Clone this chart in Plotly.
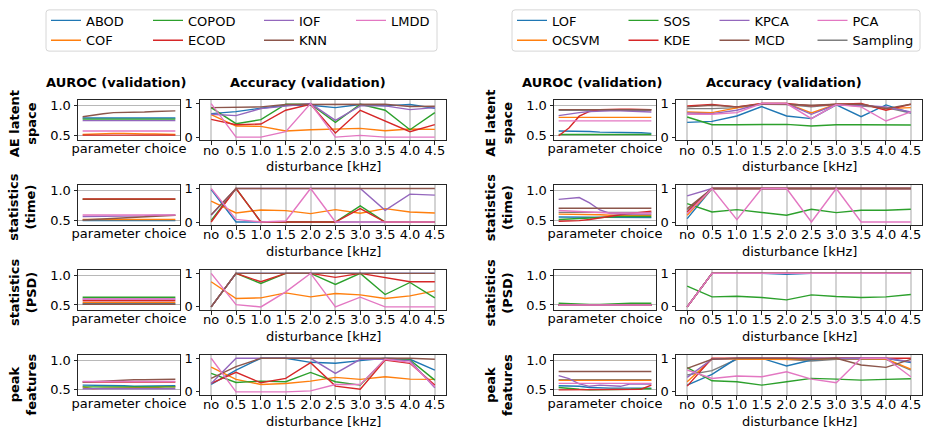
import plotly.graph_objects as go

# ---------------- data ----------------
DIST = ["no", "0.5", "1.0", "1.5", "2.0", "2.5", "3.0", "3.5", "4.0", "4.5"]
PARAM = [0, 1, 2, 3, 4, 5, 6, 7, 8, 9]

LEFT_METHODS = ["ABOD", "COF", "COPOD", "ECOD", "IOF", "KNN", "LMDD"]
RIGHT_METHODS = ["LOF", "OCSVM", "SOS", "KDE", "KPCA", "MCD", "PCA", "Sampling"]

ROW_LABELS = ["AE latent<br>space", "statistics<br>(time)", "statistics<br>(PSD)", "peak<br>features"]
COL_TITLES = ["AUROC (validation)", "Accuracy (validation)"]
X_TITLE_AUROC = "parameter choice"
X_TITLE_ACC = "disturbance [kHz]"

# --- left half: AUROC (validation) over parameter choice ---
AUROC_L_AE = {
    "ABOD": [0.79, 0.79, 0.79, 0.79, 0.79, 0.79, 0.79, 0.79, 0.79, 0.79],
    "COF": [0.51, 0.52, 0.52, 0.53, 0.53, 0.52, 0.52, 0.52, 0.51, 0.51],
    "COPOD": [0.77, 0.77, 0.77, 0.77, 0.77, 0.77, 0.77, 0.77, 0.77, 0.77],
    "ECOD": [0.50, 0.50, 0.51, 0.51, 0.51, 0.51, 0.51, 0.51, 0.50, 0.50],
    "IOF": [0.745, 0.745, 0.745, 0.745, 0.745, 0.745, 0.745, 0.745, 0.745, 0.745],
    "KNN": [0.81, 0.84, 0.86, 0.88, 0.88, 0.89, 0.89, 0.90, 0.90, 0.91],
    "LMDD": [0.57, 0.57, 0.57, 0.57, 0.57, 0.57, 0.57, 0.57, 0.57, 0.57],
}
AUROC_L_TIME = {
    "ABOD": [0.49, 0.49, 0.49, 0.49, 0.49, 0.49, 0.49, 0.49, 0.49, 0.49],
    "COF": [0.51, 0.51, 0.51, 0.51, 0.51, 0.51, 0.51, 0.51, 0.51, 0.51],
    "COPOD": [0.85, 0.85, 0.85, 0.85, 0.85, 0.85, 0.85, 0.85, 0.85, 0.85],
    "ECOD": [0.855, 0.855, 0.855, 0.855, 0.855, 0.855, 0.855, 0.855, 0.855, 0.855],
    "IOF": [0.56, 0.56, 0.56, 0.57, 0.57, 0.57, 0.57, 0.58, 0.58, 0.58],
    "KNN": [0.50, 0.51, 0.52, 0.53, 0.54, 0.55, 0.56, 0.57, 0.58, 0.58],
    "LMDD": [0.585, 0.585, 0.585, 0.585, 0.585, 0.585, 0.585, 0.585, 0.585, 0.585],
}
AUROC_L_PSD = {
    "ABOD": [0.52, 0.52, 0.52, 0.52, 0.52, 0.52, 0.52, 0.52, 0.52, 0.52],
    "COF": [0.54, 0.54, 0.54, 0.54, 0.54, 0.54, 0.54, 0.54, 0.54, 0.54],
    "COPOD": [0.63, 0.63, 0.63, 0.63, 0.63, 0.63, 0.63, 0.63, 0.63, 0.63],
    "ECOD": [0.57, 0.57, 0.57, 0.57, 0.57, 0.57, 0.57, 0.57, 0.57, 0.57],
    "IOF": [0.60, 0.60, 0.60, 0.60, 0.60, 0.60, 0.60, 0.60, 0.60, 0.60],
    "KNN": [0.51, 0.51, 0.51, 0.51, 0.51, 0.51, 0.51, 0.51, 0.51, 0.51],
    "LMDD": [0.60, 0.60, 0.60, 0.60, 0.60, 0.60, 0.60, 0.60, 0.60, 0.60],
}
AUROC_L_PEAK = {
    "ABOD": [0.58, 0.58, 0.57, 0.57, 0.57, 0.56, 0.56, 0.56, 0.57, 0.57],
    "COF": [0.55, 0.52, 0.53, 0.53, 0.53, 0.53, 0.54, 0.54, 0.55, 0.55],
    "COPOD": [0.55, 0.55, 0.55, 0.55, 0.55, 0.55, 0.55, 0.55, 0.55, 0.55],
    "ECOD": [0.63, 0.63, 0.63, 0.63, 0.63, 0.63, 0.63, 0.63, 0.63, 0.63],
    "IOF": [0.52, 0.52, 0.52, 0.52, 0.52, 0.52, 0.52, 0.52, 0.52, 0.52],
    "KNN": [0.63, 0.64, 0.65, 0.66, 0.66, 0.67, 0.67, 0.67, 0.68, 0.68],
    "LMDD": [0.64, 0.64, 0.64, 0.64, 0.64, 0.64, 0.64, 0.64, 0.64, 0.64],
}

# --- left half: Accuracy (validation) over disturbance ---
ACC_L_AE = {
    "ABOD": [0.70, 0.76, 0.86, 0.95, 0.95, 0.88, 0.97, 0.93, 0.97, 0.86],
    "COF": [0.67, 0.33, 0.32, 0.18, 0.22, 0.23, 0.26, 0.19, 0.24, 0.23],
    "COPOD": [0.88, 0.40, 0.52, 0.98, 0.98, 0.44, 0.98, 0.80, 0.22, 0.73],
    "ECOD": [0.53, 0.37, 0.39, 0.80, 0.98, 0.12, 0.80, 0.47, 0.16, 0.37],
    "IOF": [0.68, 0.64, 0.85, 0.92, 1.00, 0.50, 0.93, 0.93, 0.82, 0.88],
    "KNN": [0.88, 0.89, 0.90, 0.97, 0.97, 0.96, 0.97, 0.98, 0.91, 0.92],
    "LMDD": [1.00, 0.00, 0.00, 0.16, 1.00, 0.00, 0.05, 0.00, 0.00, 0.00],
}
ACC_L_TIME = {
    "ABOD": [0.97, 0.00, 0.00, 0.00, 0.00, 0.00, 0.00, 0.00, 0.00, 0.00],
    "COF": [0.62, 0.27, 0.36, 0.34, 0.25, 0.37, 0.26, 0.40, 0.30, 0.27],
    "COPOD": [0.05, 1.00, 0.00, 0.00, 0.00, 0.00, 0.48, 0.00, 0.00, 0.00],
    "ECOD": [0.00, 1.00, 0.00, 0.00, 0.00, 0.00, 0.40, 0.00, 0.00, 0.00],
    "IOF": [0.20, 1.00, 1.00, 1.00, 1.00, 1.00, 1.00, 0.35, 0.83, 0.80],
    "KNN": [0.22, 1.00, 1.00, 1.00, 1.00, 1.00, 1.00, 1.00, 1.00, 1.00],
    "LMDD": [1.00, 0.08, 0.00, 0.03, 1.00, 0.00, 0.00, 0.00, 0.00, 0.00],
}
ACC_L_PSD = {
    "ABOD": [0.00, 1.00, 1.00, 1.00, 1.00, 1.00, 1.00, 1.00, 1.00, 1.00],
    "COF": [0.75, 0.25, 0.27, 0.42, 0.30, 0.40, 0.36, 0.25, 0.33, 0.48],
    "COPOD": [0.00, 1.00, 0.70, 1.00, 1.00, 0.67, 1.00, 0.37, 0.73, 0.27],
    "ECOD": [0.00, 1.00, 0.75, 1.00, 1.00, 0.88, 1.00, 0.87, 0.75, 0.75],
    "IOF": [0.00, 1.00, 1.00, 1.00, 1.00, 1.00, 1.00, 1.00, 1.00, 1.00],
    "KNN": [0.00, 1.00, 1.00, 1.00, 1.00, 1.00, 1.00, 1.00, 1.00, 1.00],
    "LMDD": [1.00, 0.07, 0.00, 0.45, 1.00, 0.00, 0.29, 0.00, 0.00, 0.00],
}
ACC_L_PEAK = {
    "ABOD": [0.22, 0.65, 1.00, 1.00, 0.88, 0.85, 0.93, 1.00, 0.97, 0.65],
    "COF": [0.74, 0.37, 0.22, 0.25, 0.32, 0.43, 0.37, 0.45, 0.38, 0.37],
    "COPOD": [0.55, 0.28, 0.32, 0.30, 0.58, 0.30, 0.20, 0.97, 0.95, 0.35],
    "ECOD": [0.25, 0.58, 0.27, 0.40, 0.87, 0.17, 0.08, 0.95, 0.85, 0.20],
    "IOF": [0.25, 1.00, 1.00, 1.00, 1.00, 0.55, 0.97, 0.97, 0.93, 0.12],
    "KNN": [0.40, 0.75, 1.00, 1.00, 1.00, 1.00, 1.00, 1.00, 1.00, 0.97],
    "LMDD": [1.00, 0.00, 0.00, 0.00, 0.03, 0.22, 0.22, 0.97, 0.88, 0.15],
}

# --- right half: AUROC (validation) over parameter choice ---
AUROC_R_AE = {
    "LOF": [0.57, 0.57, 0.56, 0.56, 0.55, 0.55, 0.54, 0.54, 0.54, 0.53],
    "OCSVM": [0.80, 0.80, 0.80, 0.80, 0.80, 0.80, 0.80, 0.80, 0.80, 0.80],
    "SOS": [0.51, 0.51, 0.51, 0.51, 0.51, 0.51, 0.51, 0.51, 0.51, 0.51],
    "KDE": [0.49, 0.62, 0.82, 0.90, 0.93, 0.94, 0.94, 0.94, 0.94, 0.93],
    "KPCA": [0.83, 0.86, 0.88, 0.90, 0.91, 0.91, 0.91, 0.90, 0.90, 0.89],
    "MCD": [0.93, 0.93, 0.93, 0.93, 0.93, 0.93, 0.93, 0.93, 0.93, 0.93],
    "PCA": [0.74, 0.74, 0.74, 0.74, 0.74, 0.74, 0.74, 0.74, 0.74, 0.74],
    "Sampling": [0.92, 0.92, 0.92, 0.92, 0.92, 0.92, 0.92, 0.92, 0.92, 0.92],
}
AUROC_R_TIME = {
    "LOF": [0.55, 0.55, 0.55, 0.55, 0.54, 0.54, 0.54, 0.54, 0.54, 0.54],
    "OCSVM": [0.60, 0.60, 0.60, 0.59, 0.59, 0.58, 0.58, 0.58, 0.58, 0.58],
    "SOS": [0.51, 0.52, 0.53, 0.54, 0.55, 0.55, 0.56, 0.56, 0.56, 0.56],
    "KDE": [0.48, 0.48, 0.49, 0.51, 0.54, 0.57, 0.59, 0.61, 0.63, 0.65],
    "KPCA": [0.85, 0.86, 0.88, 0.79, 0.67, 0.61, 0.60, 0.60, 0.60, 0.60],
    "MCD": [0.70, 0.70, 0.70, 0.70, 0.70, 0.70, 0.70, 0.70, 0.70, 0.70],
    "PCA": [0.66, 0.65, 0.64, 0.63, 0.62, 0.62, 0.62, 0.62, 0.62, 0.62],
    "Sampling": [0.63, 0.63, 0.63, 0.63, 0.63, 0.63, 0.63, 0.63, 0.63, 0.63],
}
AUROC_R_PSD = {
    "LOF": [0.50, 0.50, 0.50, 0.50, 0.50, 0.50, 0.50, 0.50, 0.50, 0.50],
    "OCSVM": [0.50, 0.50, 0.50, 0.50, 0.50, 0.50, 0.50, 0.50, 0.50, 0.50],
    "SOS": [0.53, 0.52, 0.51, 0.51, 0.51, 0.52, 0.52, 0.53, 0.53, 0.53],
    "KDE": [0.50, 0.50, 0.50, 0.50, 0.50, 0.50, 0.50, 0.50, 0.50, 0.50],
    "KPCA": [0.50, 0.50, 0.50, 0.50, 0.50, 0.50, 0.50, 0.50, 0.50, 0.50],
    "MCD": [0.50, 0.50, 0.50, 0.50, 0.50, 0.50, 0.50, 0.50, 0.50, 0.50],
    "PCA": [0.50, 0.50, 0.50, 0.50, 0.50, 0.50, 0.50, 0.50, 0.50, 0.50],
    "Sampling": [0.50, 0.50, 0.50, 0.50, 0.50, 0.50, 0.50, 0.50, 0.50, 0.50],
}
AUROC_R_PEAK = {
    "LOF": [0.57, 0.57, 0.56, 0.54, 0.53, 0.53, 0.53, 0.53, 0.53, 0.53],
    "OCSVM": [0.66, 0.66, 0.66, 0.66, 0.66, 0.66, 0.66, 0.66, 0.66, 0.66],
    "SOS": [0.54, 0.52, 0.51, 0.50, 0.50, 0.50, 0.51, 0.51, 0.52, 0.52],
    "KDE": [0.50, 0.50, 0.50, 0.50, 0.50, 0.50, 0.50, 0.50, 0.51, 0.58],
    "KPCA": [0.74, 0.69, 0.60, 0.56, 0.58, 0.57, 0.56, 0.60, 0.60, 0.60],
    "MCD": [0.81, 0.81, 0.81, 0.81, 0.81, 0.81, 0.81, 0.81, 0.81, 0.81],
    "PCA": [0.61, 0.61, 0.61, 0.61, 0.61, 0.61, 0.61, 0.61, 0.61, 0.61],
    "Sampling": [0.67, 0.67, 0.67, 0.67, 0.67, 0.67, 0.67, 0.67, 0.67, 0.67],
}

# --- right half: Accuracy (validation) over disturbance ---
ACC_R_AE = {
    "LOF": [0.44, 0.47, 0.63, 0.91, 0.63, 0.55, 0.96, 0.61, 0.96, 0.72],
    "OCSVM": [0.75, 0.73, 0.87, 1.00, 1.00, 0.72, 0.98, 0.97, 0.85, 0.88],
    "SOS": [0.60, 0.37, 0.37, 0.37, 0.38, 0.33, 0.37, 0.37, 0.37, 0.36],
    "KDE": [0.93, 0.97, 0.90, 1.00, 1.00, 0.93, 0.98, 1.00, 0.80, 0.98],
    "KPCA": [0.72, 0.70, 0.80, 1.00, 1.00, 0.68, 0.97, 0.95, 0.90, 0.75],
    "MCD": [0.90, 0.95, 0.90, 0.98, 0.98, 0.95, 0.98, 0.98, 0.85, 0.98],
    "PCA": [0.68, 0.68, 0.73, 1.00, 1.00, 0.55, 0.97, 0.90, 0.48, 0.75],
    "Sampling": [0.85, 0.85, 0.88, 0.98, 0.97, 0.90, 0.97, 0.93, 0.88, 0.72],
}
ACC_R_TIME = {
    "LOF": [0.10, 1.00, 1.00, 1.00, 1.00, 1.00, 1.00, 1.00, 1.00, 1.00],
    "OCSVM": [0.20, 1.00, 1.00, 1.00, 1.00, 1.00, 1.00, 1.00, 1.00, 1.00],
    "SOS": [0.55, 0.30, 0.37, 0.28, 0.20, 0.38, 0.28, 0.35, 0.35, 0.38],
    "KDE": [0.30, 1.00, 1.00, 1.00, 1.00, 1.00, 1.00, 1.00, 1.00, 1.00],
    "KPCA": [0.78, 1.00, 1.00, 1.00, 1.00, 1.00, 1.00, 1.00, 1.00, 1.00],
    "MCD": [0.40, 1.00, 1.00, 1.00, 1.00, 1.00, 1.00, 1.00, 1.00, 1.00],
    "PCA": [0.25, 1.00, 0.07, 1.00, 1.00, 0.00, 1.00, 0.00, 0.00, 0.00],
    "Sampling": [0.35, 1.00, 1.00, 1.00, 1.00, 1.00, 1.00, 1.00, 1.00, 1.00],
}
ACC_R_PSD = {
    "LOF": [0.00, 1.00, 1.00, 1.00, 0.97, 1.00, 1.00, 1.00, 1.00, 1.00],
    "OCSVM": [0.00, 1.00, 1.00, 1.00, 1.00, 1.00, 1.00, 1.00, 1.00, 1.00],
    "SOS": [0.62, 0.30, 0.32, 0.28, 0.21, 0.36, 0.31, 0.28, 0.30, 0.37],
    "KDE": [0.00, 1.00, 1.00, 1.00, 1.00, 1.00, 1.00, 1.00, 1.00, 1.00],
    "KPCA": [0.00, 1.00, 1.00, 1.00, 1.00, 1.00, 1.00, 1.00, 1.00, 1.00],
    "MCD": [0.00, 1.00, 1.00, 1.00, 1.00, 1.00, 1.00, 1.00, 1.00, 1.00],
    "PCA": [0.00, 1.00, 1.00, 1.00, 1.00, 1.00, 1.00, 1.00, 1.00, 1.00],
    "Sampling": [0.00, 1.00, 1.00, 1.00, 1.00, 1.00, 1.00, 1.00, 1.00, 1.00],
}
ACC_R_PEAK = {
    "LOF": [0.20, 0.52, 1.00, 1.00, 0.77, 0.95, 1.00, 1.00, 1.00, 0.87],
    "OCSVM": [0.30, 0.98, 0.98, 0.98, 0.98, 0.96, 1.00, 1.00, 0.98, 0.68],
    "SOS": [0.72, 0.33, 0.30, 0.20, 0.30, 0.40, 0.38, 0.35, 0.37, 0.39],
    "KDE": [0.17, 1.00, 1.00, 1.00, 1.00, 1.00, 1.00, 1.00, 1.00, 1.00],
    "KPCA": [0.43, 0.97, 1.00, 1.00, 1.00, 1.00, 1.00, 1.00, 1.00, 0.90],
    "MCD": [0.70, 0.97, 1.00, 1.00, 1.00, 0.97, 1.00, 0.80, 0.73, 0.97],
    "PCA": [0.65, 0.40, 0.47, 0.45, 0.60, 0.38, 0.27, 1.00, 1.00, 0.45],
    "Sampling": [0.50, 0.63, 0.97, 0.97, 0.97, 0.92, 0.97, 0.97, 0.97, 0.65],
}

# ---------------- styling / layout constants ----------------
W, H = 928, 436
FONT = "DejaVu Sans"
COLORS = {
    "ABOD": "#1f77b4", "COF": "#ff7f0e", "COPOD": "#2ca02c", "ECOD": "#d62728",
    "IOF": "#9467bd", "KNN": "#8c564b", "LMDD": "#e377c2",
    "LOF": "#1f77b4", "OCSVM": "#ff7f0e", "SOS": "#2ca02c", "KDE": "#d62728",
    "KPCA": "#9467bd", "MCD": "#8c564b", "PCA": "#e377c2", "Sampling": "#7f7f7f",
}
LEGEND_COLS = [
    [["ABOD", "COF"], ["COPOD", "ECOD"], ["IOF", "KNN"], ["LMDD"]],
    [["LOF", "OCSVM"], ["SOS", "KDE"], ["KPCA", "MCD"], ["PCA", "Sampling"]],
]
LEGEND_COL_X = [[46, 148, 259, 351], [512, 623.5, 714.5, 812.5]]
LEGEND_BOX = [(46, 6, 437, 48), (512, 6, 920, 48)]

AUROC_X = [(78, 180), (554, 656)]
ACC_X = [(200, 446), (676, 922)]
ROW_TOPS = [98, 184.5, 271, 357.5]
ROW_H = 41
ROW_LABEL_X = [22.5, 499]
ROW_LABEL_Y = [122, 207, 294, 388]
TITLE_X = [(115.5, 308), (591.5, 784)]
TITLE_Y = 80
ACC_XTITLE_DY = 68

DATA = [
    [(AUROC_L_AE, ACC_L_AE), (AUROC_L_TIME, ACC_L_TIME), (AUROC_L_PSD, ACC_L_PSD), (AUROC_L_PEAK, ACC_L_PEAK)],
    [(AUROC_R_AE, ACC_R_AE), (AUROC_R_TIME, ACC_R_TIME), (AUROC_R_PSD, ACC_R_PSD), (AUROC_R_PEAK, ACC_R_PEAK)],
]
# draw order (Sampling underneath the rest)
DRAW_ORDER = [LEFT_METHODS, ["Sampling"] + RIGHT_METHODS[:-1]]


def px(x):
    return x / W


def py(y):
    return 1 - y / H


fig = go.Figure()
layout = {}

legend_of = {}
rank_of = {}
for side in range(2):
    for ci, col in enumerate(LEGEND_COLS[side]):
        lname = "legend" if (side == 0 and ci == 0) else f"legend{side * 4 + ci + 1}"
        for j, m in enumerate(col):
            legend_of[m] = lname
            rank_of[m] = j + 1
        layout[lname] = dict(
            x=px(LEGEND_COL_X[side][ci]), xanchor="left",
            y=py(1.5), yanchor="top",
            orientation="v", bgcolor="rgba(0,0,0,0)", borderwidth=0,
            font=dict(family=FONT, size=13, color="black"),
            tracegroupgap=0,
        )

axis_line = dict(showline=True, mirror=True, linecolor="#262626", linewidth=1, zeroline=False)

annotations = []
for side in range(2):
    for r in range(4):
        for k in range(2):
            idx = side * 8 + r * 2 + k + 1
            xs = "" if idx == 1 else str(idx)
            x0, x1 = (AUROC_X if k == 0 else ACC_X)[side]
            top = ROW_TOPS[r]
            ydom = [py(top + ROW_H), py(top)]
            if k == 0:
                layout["xaxis" + xs] = dict(
                    domain=[px(x0), px(x1)], anchor="y" + xs, range=[-0.45, 9.45],
                    showticklabels=False, ticks="", showgrid=False,
                    title=dict(text=X_TITLE_AUROC, standoff=3, font=dict(size=13)),
                    **axis_line)
                layout["yaxis" + xs] = dict(
                    domain=ydom, anchor="x" + xs, range=[0.41, 1.09],
                    tickvals=[0.5, 1.0], ticktext=["0.5", "1.0"],
                    ticks="outside", ticklen=3.5, tickcolor="#262626",
                    showgrid=True, gridcolor="#b8b8b8", gridwidth=1,
                    **axis_line)
            else:
                layout["xaxis" + xs] = dict(
                    domain=[px(x0), px(x1)], anchor="y" + xs, type="category",
                    categoryorder="array", categoryarray=DIST, range=[-0.45, 9.45],
                    ticks="outside", ticklen=3.5, tickcolor="#262626",
                    ticklabelstandoff=-6, tickangle=0,
                    showgrid=True, gridcolor="#d3d3d3", gridwidth=2,
                    **axis_line)
                layout["yaxis" + xs] = dict(
                    domain=ydom, anchor="x" + xs, range=[-0.1, 1.1],
                    tickvals=[0, 1], ticktext=["0", "1"],
                    ticks="outside", ticklen=3.5, tickcolor="#262626",
                    showgrid=False,
                    **axis_line)
                annotations.append(dict(
                    x=px((x0 + x1) / 2), y=py(top + ACC_XTITLE_DY), xref="paper", yref="paper",
                    text=X_TITLE_ACC, showarrow=False, xanchor="center", yanchor="middle",
                    borderpad=0, font=dict(family=FONT, size=13, color="black")))
            data = DATA[side][r][k]
            xvals = PARAM if k == 0 else DIST
            for m in DRAW_ORDER[side]:
                fig.add_trace(go.Scatter(
                    x=xvals, y=data[m], mode="lines", name=m,
                    line=dict(color=COLORS[m], width=1.4),
                    xaxis="x" + xs, yaxis="y" + xs,
                    legend=legend_of[m], legendrank=rank_of[m],
                    showlegend=(r == 0 and k == 1),
                    hoverinfo="skip",
                ))

for side in range(2):
    for k in range(2):
        annotations.append(dict(
            x=px(TITLE_X[side][k]), y=py(TITLE_Y), xref="paper", yref="paper",
            text="<b>" + COL_TITLES[k] + "</b>", showarrow=False,
            xanchor="center", yanchor="middle", font=dict(family=FONT, size=13, color="black")))
    for r in range(4):
        annotations.append(dict(
            x=px(ROW_LABEL_X[side]), y=py(ROW_LABEL_Y[r]), xref="paper", yref="paper",
            text="<b>" + ROW_LABELS[r] + "</b>", showarrow=False, textangle=-90,
            xanchor="center", yanchor="middle", font=dict(family=FONT, size=13, color="black")))

shapes = []
rad = 3
for (bx0, by0, bx1, by1) in LEGEND_BOX:
    path = (
        f"M {px(bx0 + rad)} {py(by0)} L {px(bx1 - rad)} {py(by0)} "
        f"Q {px(bx1)} {py(by0)} {px(bx1)} {py(by0 + rad)} "
        f"L {px(bx1)} {py(by1 - rad)} Q {px(bx1)} {py(by1)} {px(bx1 - rad)} {py(by1)} "
        f"L {px(bx0 + rad)} {py(by1)} Q {px(bx0)} {py(by1)} {px(bx0)} {py(by1 - rad)} "
        f"L {px(bx0)} {py(by0 + rad)} Q {px(bx0)} {py(by0)} {px(bx0 + rad)} {py(by0)} Z"
    )
    shapes.append(dict(type="path", path=path, xref="paper", yref="paper",
                       line=dict(color="#d6d6d6", width=1), fillcolor="white", layer="below"))

fig.update_layout(
    width=W, height=H,
    margin=dict(l=0, r=0, t=0, b=0),
    paper_bgcolor="white", plot_bgcolor="white",
    font=dict(family=FONT, size=13, color="black"),
    annotations=annotations, shapes=shapes,
    hovermode=False,
    **layout,
)

fig.write_html(
    "out.html",
    config={"displayModeBar": False, "staticPlot": True},
    post_script="document.body.style.margin='0px';document.body.style.padding='0px';"
                "document.documentElement.style.overflow='hidden';",
)
